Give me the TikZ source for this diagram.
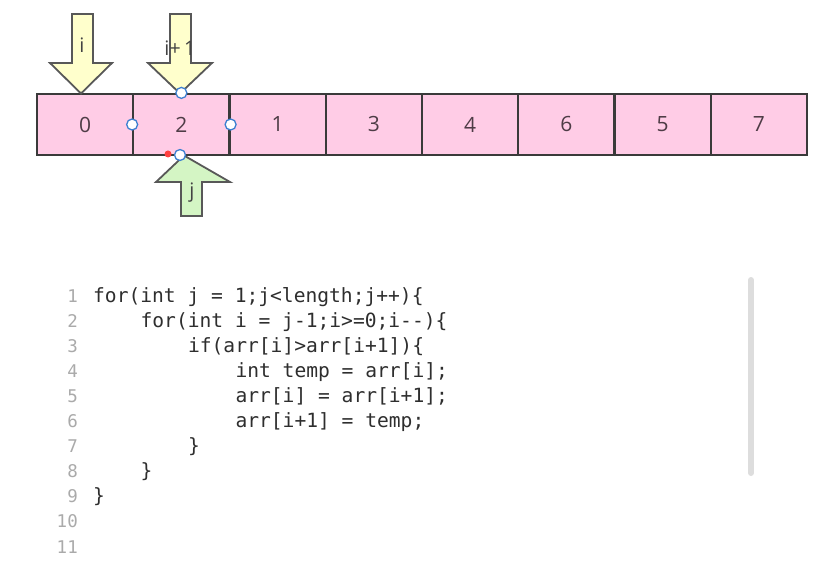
\documentclass[tikz,border=0pt]{standalone}
\usepackage{fontspec}
\setmainfont{Open Sans}
\setmonofont{DejaVu Sans Mono}
\definecolor{cellpink}{HTML}{FFCCE6}
\definecolor{cellline}{HTML}{3A3A3A}
\definecolor{digit}{HTML}{4E3C46}
\definecolor{arrowyellow}{HTML}{FFFFCC}
\definecolor{arrowgreen}{HTML}{D4F5C4}
\definecolor{codecol}{HTML}{2E2E2E}
\definecolor{lncol}{HTML}{AAAAAA}
\definecolor{handleblue}{HTML}{3C7FD0}
\definecolor{scroll}{HTML}{DDDDDD}
\tikzset{
  cell/.style={draw=cellline, line width=2.2bp, fill=cellpink, minimum width=96.25bp,
    minimum height=61bp, inner sep=0pt, text=digit, font=\fontsize{21bp}{25bp}\selectfont},
  ptr/.style={draw=cellline!85, line width=1.8bp, line join=miter},
  ptrlabel/.style={text=codecol!90, font=\fontsize{20bp}{24bp}\selectfont, inner sep=0pt},
  handle/.style={circle, draw=handleblue, fill=white, line width=1.3bp, minimum size=11bp, inner sep=0pt},
  code/.style={anchor=base west, inner sep=0pt, text=codecol, font=\fontsize{19.6bp}{24bp}\ttfamily},
  lnum/.style={anchor=base east, inner sep=0pt, text=lncol, font=\fontsize{17.5bp}{24bp}\ttfamily}
}
\begin{document}
\begin{tikzpicture}[x=1bp, y=-1bp]
\useasboundingbox (0,0) rectangle (836,580);
% array cells
\foreach \v [count=\k from 0] in {0,2,1,3,4,6,5,7} {
  \node[cell] (c\k) at ({37+96.25*\k+48.125},124.5) {\v};
}
% pointer i
\draw[ptr, fill=arrowyellow] (72,14) -- (93,14) -- (93,63) -- (112,63) -- (81,93.5) -- (50,63) -- (72,63) -- cycle;
\node[ptrlabel] (li) at (82,45) {i};
% pointer i+1
\draw[ptr, fill=arrowyellow] (170,14) -- (191,14) -- (191,63) -- (212,63) -- (180,93.5) -- (148,63) -- (170,63) -- cycle;
\node[ptrlabel] (lip) at (180,48) {i+\,1};
% pointer j
\draw[ptr, fill=arrowgreen] (181,216) -- (202,216) -- (202,182) -- (230,182) -- (184,155.5) -- (156,182) -- (181,182) -- cycle;
\node[ptrlabel] (lj) at (192,193) {j};
% selection handles
\node[handle] (h1) at (c1.north) {};
\node[handle] (h2) at (c1.west) {};
\node[handle] (h3) at (c1.east) {};
\node[handle] (h4) at (180,155) {};
\fill[red!75!white] (168,154) circle (3.5bp);
% code
\foreach \ln/\ind/\txt in {
  1/0/{for(int j = 1;j<length;j++)\{},
  2/4/{for(int i = j-1;i>=0;i-{}-)\{},
  3/8/{if(arr[i]>arr[i+1])\{},
  4/12/{int temp = arr[i];},
  5/12/{arr[i] = arr[i+1];},
  6/12/{arr[i+1] = temp;},
  7/8/{\}},
  8/4/{\}},
  9/0/{\}}} {
  \node[code] (code\ln) at ({93+11.86*\ind},{302+25.1*(\ln-1)}) {\txt};
}
\foreach \ln in {1,...,11} {
  \node[lnum] (ln\ln) at (78,{302+25.1*(\ln-1)}) {\ln};
}
% scrollbar
\draw[scroll, line width=6bp, line cap=round] (751,280) -- (751,473);
\end{tikzpicture}
\end{document}
